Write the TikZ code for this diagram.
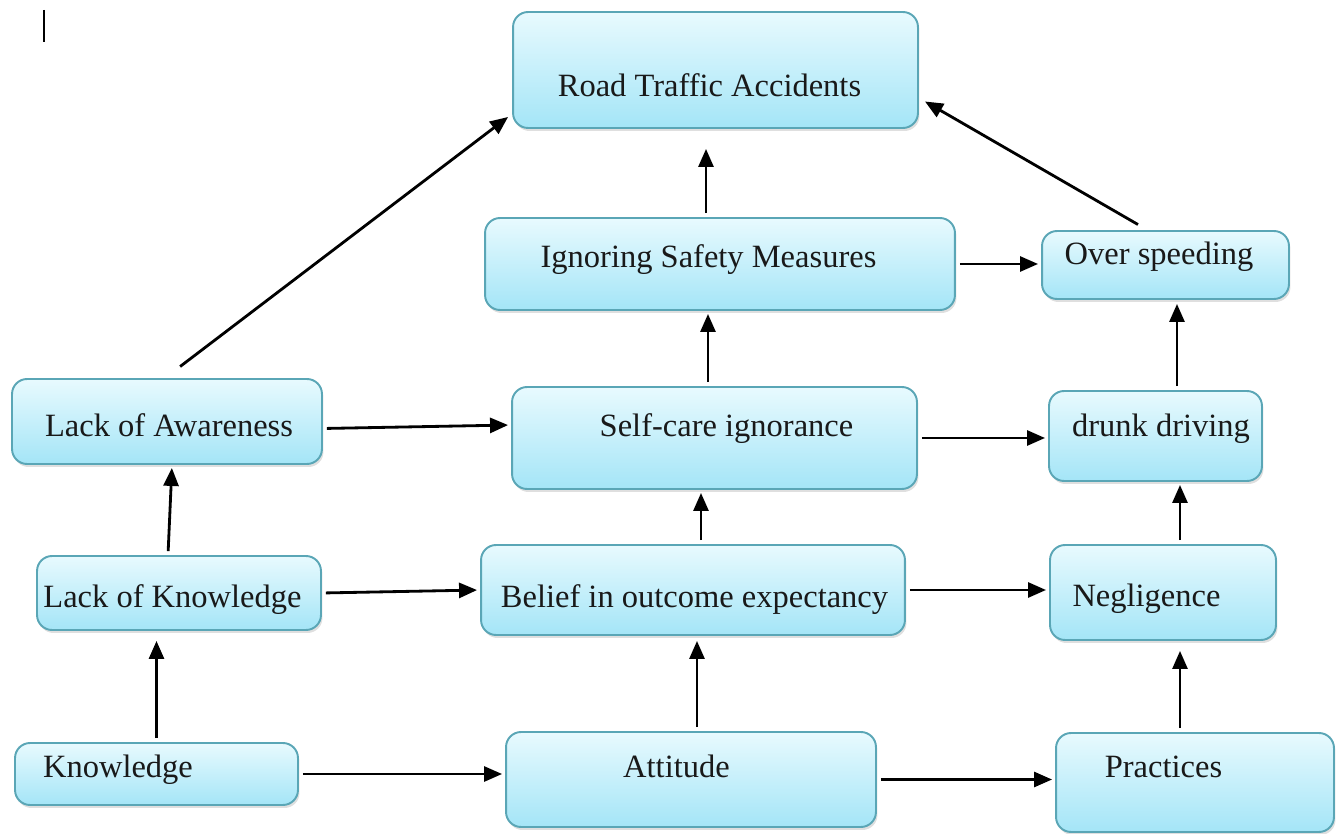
\documentclass[tikz,border=0pt]{standalone}
\usepackage{fontspec}
\setmainfont{Liberation Serif}
\usetikzlibrary{arrows.meta,shadows}

\definecolor{boxtop}{HTML}{E8FAFE}
\definecolor{boxbot}{HTML}{A4E5F7}
\definecolor{boxline}{HTML}{5AA6B6}

\tikzstyle{box} = [rectangle, rounded corners=0.3cm, draw=boxline, line width=1.1pt, top color=boxtop, bottom color=boxbot, drop shadow={opacity=0.25, shadow xshift=0.03cm, shadow yshift=-0.06cm}]
\tikzstyle{box-txt} = [inner sep=0pt, text height=13pt, text depth=4pt, text=black!90, font=\fontsize{18.5}{22}\selectfont]
\tikzstyle{arrow} = [line width=1.6pt, -{Triangle[length=0.36cm, width=0.3cm]}, shorten <=0.08cm, shorten >=0.06cm]

\begin{document}
\begin{tikzpicture}[x=0.02cm, y=-0.02cm]
  \useasboundingbox (0,0) rectangle (1343,834);

  % boxes, top row down to the bottom row
  \node (rta) [box, minimum width=8.1cm, minimum height=2.32cm, label={[box-txt, shift={(-6,19)}]center:Road Traffic Accidents}] at (715.5,70) {};
  \node (ignore) [box, minimum width=9.4cm, minimum height=1.84cm, label={[box-txt, shift={(-11.5,-4)}]center:Ignoring Safety Measures}] at (720,264) {};
  \node (speed) [box, minimum width=4.94cm, minimum height=1.36cm, label={[box-txt, shift={(-6.5,-8)}]center:Over speeding}] at (1165.5,265) {};
  \node (aware) [box, minimum width=6.2cm, minimum height=1.7cm, label={[box-txt, shift={(2,7.5)}]center:Lack of Awareness}] at (167,421.5) {};
  \node (selfcare) [box, minimum width=8.1cm, minimum height=2.04cm, label={[box-txt, shift={(12,-9)}]center:Self-care ignorance}] at (714.5,438) {};
  \node (drunk) [box, minimum width=4.26cm, minimum height=1.8cm, label={[box-txt, shift={(5.5,-7)}]center:drunk driving}] at (1155.5,436) {};
  \node (lknow) [box, minimum width=5.68cm, minimum height=1.48cm, label={[box-txt, shift={(-6.5,7)}]center:Lack of Knowledge}] at (179,593) {};
  \node (belief) [box, minimum width=8.48cm, minimum height=1.8cm, label={[box-txt, shift={(1.5,10)}]center:Belief in outcome expectancy}] at (693,590) {};
  \node (neglig) [box, minimum width=4.52cm, minimum height=1.9cm, label={[box-txt, shift={(-16.5,6.5)}]center:Negligence}] at (1163,592.5) {};
  \node (know) [box, minimum width=5.66cm, minimum height=1.24cm, label={[box-txt, shift={(-38.5,-4)}]center:Knowledge}] at (156.5,774) {};
  \node (attitude) [box, minimum width=7.4cm, minimum height=1.9cm, label={[box-txt, shift={(-14.5,-9.5)}]center:Attitude}] at (691,779.5) {};
  \node (practice) [box, minimum width=5.56cm, minimum height=1.98cm, label={[box-txt, shift={(-31.5,-12.5)}]center:Practices}] at (1195,782.5) {};

  % horizontal links
  \draw [arrow] (know.east) -- (know.east -| attitude.west);
  \draw [arrow] (attitude.east) -- (attitude.east -| practice.west);
  \draw [arrow] (lknow.east) -- (belief.west);
  \draw [arrow] (belief.east) -- (belief.east -| neglig.west);
  \draw [arrow] ([yshift=-0.14cm]aware.east) -- ([yshift=0.26cm]selfcare.west);
  \draw [arrow] (selfcare.east) -- (selfcare.east -| drunk.west);
  \draw [arrow] (ignore.east) -- (ignore.east -| speed.west);

  % upward links
  \draw [arrow, shorten >=0.2cm] (know.north) -- (know.north |- lknow.south);
  \draw [arrow] ([xshift=-0.22cm]lknow.north) -- ([xshift=0.1cm]aware.south);
  \draw [arrow, shorten >=0.1cm] ([xshift=0.12cm]attitude.north) -- ([xshift=0.12cm]attitude.north |- belief.south);
  \draw [arrow] ([xshift=0.16cm]belief.north) -- ([xshift=0.16cm]belief.north |- selfcare.south);
  \draw [arrow] ([xshift=-0.13cm]selfcare.north) -- ([xshift=-0.13cm]selfcare.north |- ignore.south);
  \draw [arrow, shorten >=0.4cm] ([xshift=-0.28cm]ignore.north) -- ([xshift=-0.28cm]ignore.north |- rta.south);
  \draw [arrow, shorten >=0.2cm] ([xshift=-0.3cm]practice.north) -- ([xshift=-0.3cm]practice.north |- neglig.south);
  \draw [arrow] ([xshift=0.34cm]neglig.north) -- ([xshift=0.34cm]neglig.north |- drunk.south);
  \draw [arrow, shorten >=0.08cm] ([xshift=0.43cm]drunk.north) -- ([xshift=0.43cm]drunk.north |- speed.south);

  % long diagonals into the top box
  \draw [arrow, shorten <=0.38cm, shorten >=0.1cm] ([xshift=-0.04cm]aware.north) -- ([yshift=0.3cm]rta.south west);
  \draw [arrow, shorten <=0.22cm, shorten >=0.14cm] ([xshift=-0.36cm]speed.north) -- ([yshift=-0.56cm]rta.east);

  % stray mark at the top left
  \draw [line width=1pt] (44,10) -- (44,42);
\end{tikzpicture}
\end{document}
